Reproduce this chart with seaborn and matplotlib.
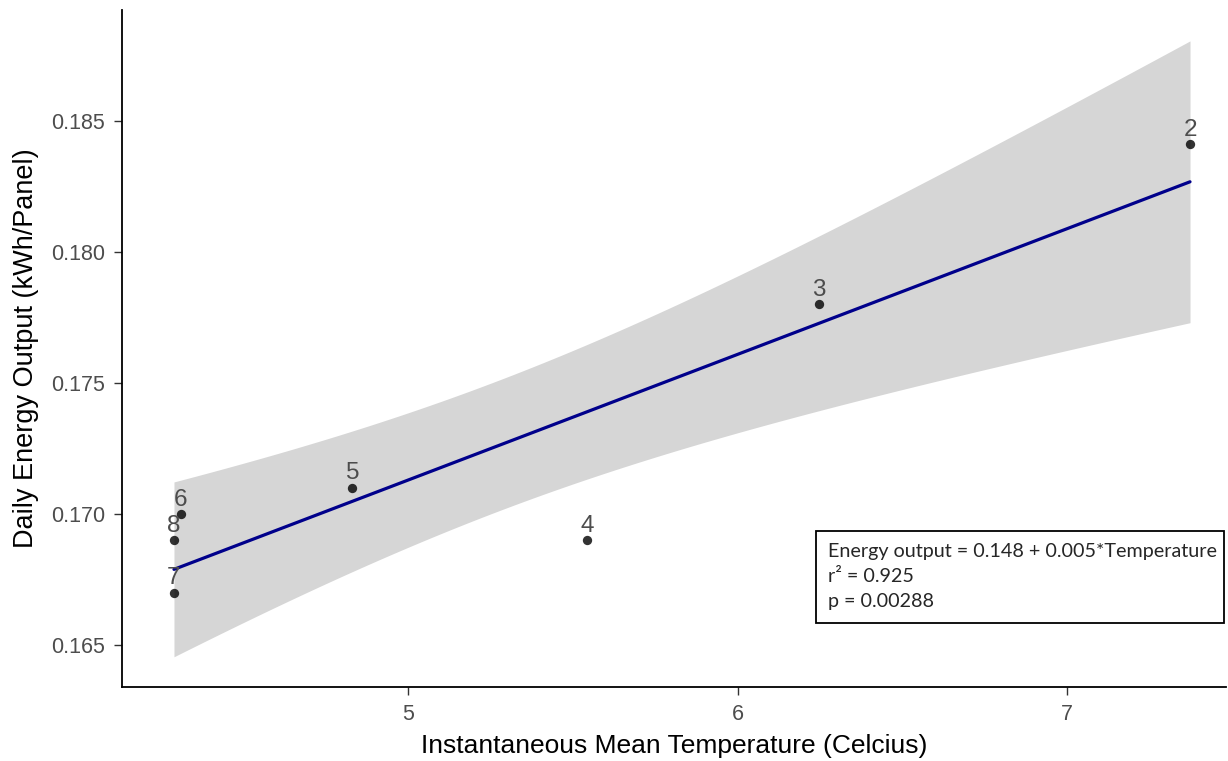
import numpy as np
import pandas as pd
import seaborn as sns
import matplotlib.pyplot as plt
from matplotlib.patches import Rectangle

# data
site = ["2", "3", "4", "5", "6", "8", "7"]
temperature = [7.373, 6.245, 5.542, 4.830, 4.309, 4.288, 4.288]
energy = [0.1841, 0.1780, 0.1690, 0.1710, 0.1700, 0.1690, 0.1670]
x_ticks = [5, 6, 7]
y_ticks = [0.165, 0.170, 0.175, 0.180, 0.185]
note_lines = ["Energy output = 0.148 + 0.005*Temperature", "r² = 0.925", "p = 0.00288"]

df = pd.DataFrame({"site": site, "temp": temperature, "energy": energy})

sns.set_style("white")
plt.rcParams["font.family"] = ["Liberation Sans", "DejaVu Sans"]

fig = plt.figure(figsize=(12.28, 7.61), dpi=100)
ax = fig.add_axes([0.0993, 0.0972, 0.899, 0.89])

# 95% t-based confidence band of the OLS fit (like geom_smooth(method="lm"))
x = df["temp"].to_numpy()
y = df["energy"].to_numpy()
n = len(x)
b1, b0 = np.polyfit(x, y, 1)
s = np.sqrt(np.sum((y - (b0 + b1 * x)) ** 2) / (n - 2))
grid = np.linspace(x.min(), x.max(), 100)
se = s * np.sqrt(1 / n + (grid - x.mean()) ** 2 / np.sum((x - x.mean()) ** 2))
t_crit = 2.5706  # t(0.975, df=5)
ax.fill_between(grid, b0 + b1 * grid - t_crit * se, b0 + b1 * grid + t_crit * se,
                color="#d6d6d6", lw=0, zorder=1)

sns.regplot(data=df, x="temp", y="energy", ax=ax, ci=None,
            scatter_kws={"s": 45, "color": "black", "zorder": 4, "linewidths": 0},
            line_kws={"color": "#00008B", "lw": 2.3, "zorder": 3})

for _, r in df.iterrows():
    ax.annotate(r["site"], (r["temp"], r["energy"]), xytext=(0, 2.5), textcoords="offset points",
                ha="center", va="bottom", fontsize=17.5, color="#4d4d4d", zorder=5)

ax.set_xlim(4.130, 7.482)
ax.set_ylim(0.16340, 0.18924)
ax.set_xticks(x_ticks)
ax.set_yticks(y_ticks)
ax.set_yticklabels([f"{v:.3f}" for v in y_ticks])
ax.tick_params(axis="both", labelsize=15.5, labelcolor="#4d4d4d", color="#333333",
               length=6, width=1, direction="out", bottom=True, left=True, pad=6)
for sp in ["top", "right"]:
    ax.spines[sp].set_visible(False)
for sp in ["left", "bottom"]:
    ax.spines[sp].set_color("black")
    ax.spines[sp].set_linewidth(1.3)

ax.set_xlabel("Instantaneous Mean Temperature (Celcius)", fontsize=19, color="black", labelpad=7)
ax.set_ylabel("Daily Energy Output (kWh/Panel)", fontsize=19.5, color="black", labelpad=9)

# equation box
ax.add_patch(Rectangle((0.629, 0.0945), 0.369, 0.136, transform=ax.transAxes,
                       facecolor="white", edgecolor="black", lw=1.3, zorder=6, clip_on=False))
for i, line in enumerate(note_lines):
    ax.text(0.640, 0.200 - i * 0.037, line, transform=ax.transAxes, fontsize=14.2,
            family=["Lato", "DejaVu Sans"], va="center", ha="left", zorder=7)

fig.savefig("out.png", dpi=100)
